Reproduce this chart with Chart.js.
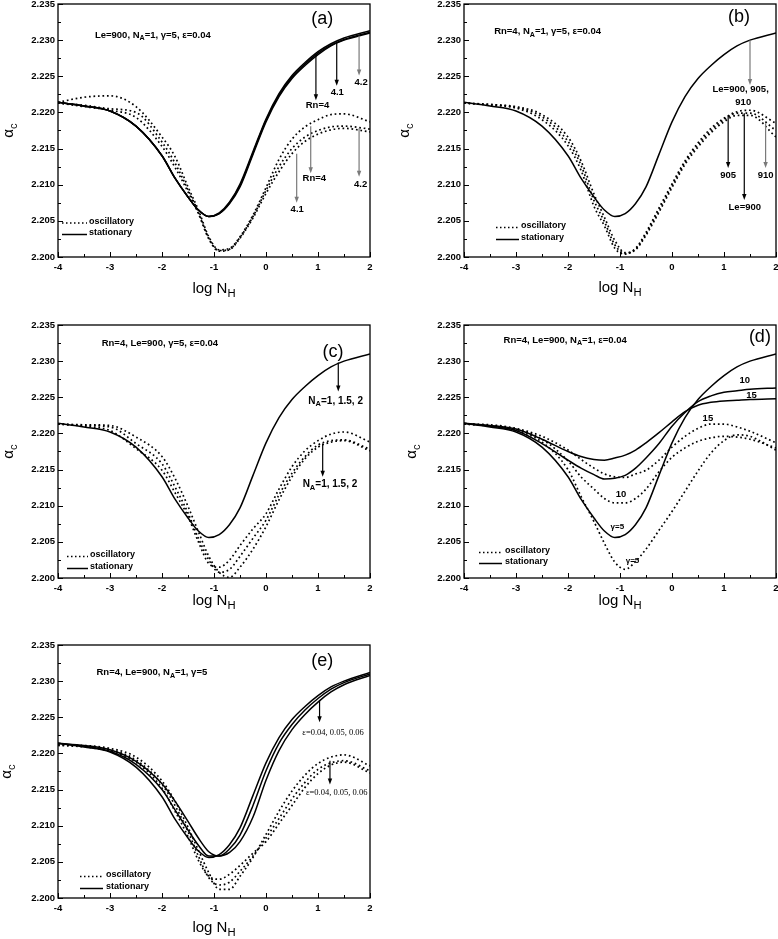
<!DOCTYPE html>
<html>
<head>
<meta charset="utf-8">
<script src="https://cdn.jsdelivr.net/npm/chart.js@4.4.1/dist/chart.umd.min.js"></script>
<style>
  html, body { margin: 0; padding: 0; background: #fff; }
  #page { position: relative; width: 778px; height: 939px; overflow: hidden; }
  canvas { position: absolute; }
</style>
</head>
<body>
<div id="page"></div>
<script>
// log N_H positions shared by every curve
const logNH = [-4, -3.5, -3, -2.5, -2, -1.75, -1.5, -1.3, -1.1, -0.9, -0.7, -0.5, -0.25, 0, 0.25, 0.5, 0.75, 1, 1.25, 1.5, 2];
const xTickValues = [-4, -3, -2, -1, 0, 1, 2];
const yTickValues = [2.200, 2.205, 2.210, 2.215, 2.220, 2.225, 2.230, 2.235];

// (a) Rn = 4, 4.1, 4.2
const aStat1 = [2.2214, 2.2209, 2.2202, 2.2181, 2.2140, 2.2109, 2.2083, 2.2065, 2.2056, 2.2060, 2.2074, 2.2097, 2.2142, 2.2187, 2.2222, 2.2247, 2.2265, 2.2280, 2.2292, 2.2300, 2.2310];
const aStat2 = [2.2214, 2.2209, 2.2202, 2.2181, 2.2140, 2.2109, 2.2083, 2.2065, 2.2056, 2.2060, 2.2075, 2.2099, 2.2144, 2.2189, 2.2224, 2.2249, 2.2267, 2.2282, 2.2293, 2.2301, 2.2311];
const aStat3 = [2.2214, 2.2209, 2.2202, 2.2181, 2.2140, 2.2109, 2.2083, 2.2065, 2.2056, 2.2061, 2.2076, 2.2101, 2.2146, 2.2191, 2.2226, 2.2251, 2.2269, 2.2284, 2.2295, 2.2303, 2.2313];
const aOsc1 = [2.2214, 2.2221, 2.2223, 2.2208, 2.2166, 2.2139, 2.2097, 2.2065, 2.2028, 2.2010, 2.2012, 2.2028, 2.2058, 2.2096, 2.2135, 2.2163, 2.2180, 2.2190, 2.2197, 2.2198, 2.2187];
const aOsc2 = [2.2213, 2.2210, 2.2205, 2.2200, 2.2159, 2.2130, 2.2093, 2.2062, 2.2026, 2.2009, 2.2011, 2.2027, 2.2056, 2.2092, 2.2125, 2.2150, 2.2166, 2.2175, 2.2180, 2.2181, 2.2177];
const aOsc3 = [2.2213, 2.2208, 2.2203, 2.2193, 2.2153, 2.2124, 2.2090, 2.2060, 2.2025, 2.2008, 2.2010, 2.2026, 2.2054, 2.2088, 2.2118, 2.2143, 2.2160, 2.2170, 2.2176, 2.2178, 2.2173];

// (b) Le = 900, 905, 910
const bStat = [2.2214, 2.2209, 2.2202, 2.2181, 2.2140, 2.2109, 2.2083, 2.2065, 2.2056, 2.2060, 2.2074, 2.2097, 2.2142, 2.2187, 2.2222, 2.2247, 2.2265, 2.2280, 2.2292, 2.2300, 2.2310];
const bOsc1 = [2.2213, 2.2211, 2.2208, 2.2197, 2.2166, 2.2133, 2.2087, 2.2055, 2.2023, 2.2006, 2.2010, 2.2030, 2.2062, 2.2096, 2.2128, 2.2152, 2.2172, 2.2187, 2.2196, 2.2196, 2.2166];
const bOsc2 = [2.2213, 2.2211, 2.2207, 2.2194, 2.2160, 2.2127, 2.2078, 2.2049, 2.2017, 2.2005, 2.2011, 2.2032, 2.2065, 2.2099, 2.2131, 2.2155, 2.2175, 2.2190, 2.2199, 2.2199, 2.2175];
const bOsc3 = [2.2213, 2.2210, 2.2206, 2.2190, 2.2154, 2.2120, 2.2070, 2.2043, 2.2012, 2.2004, 2.2012, 2.2034, 2.2068, 2.2101, 2.2133, 2.2158, 2.2178, 2.2192, 2.2201, 2.2203, 2.2185];

// (c) N_A = 1, 1.5, 2
const cStat = [2.2214, 2.2209, 2.2202, 2.2181, 2.2140, 2.2109, 2.2083, 2.2065, 2.2056, 2.2060, 2.2074, 2.2097, 2.2142, 2.2187, 2.2222, 2.2247, 2.2265, 2.2280, 2.2292, 2.2300, 2.2310];
const cOsc1 = [2.2213, 2.2212, 2.2211, 2.2195, 2.2168, 2.2138, 2.2099, 2.2064, 2.2030, 2.2008, 2.2001, 2.2015, 2.2040, 2.2071, 2.2108, 2.2140, 2.2165, 2.2181, 2.2188, 2.2190, 2.2176];
const cOsc2 = [2.2213, 2.2211, 2.2209, 2.2186, 2.2158, 2.2126, 2.2090, 2.2055, 2.2025, 2.2008, 2.2012, 2.2030, 2.2055, 2.2080, 2.2115, 2.2145, 2.2168, 2.2184, 2.2190, 2.2191, 2.2178];
const cOsc3 = [2.2213, 2.2210, 2.2204, 2.2179, 2.2149, 2.2118, 2.2085, 2.2050, 2.2020, 2.2015, 2.2025, 2.2045, 2.2068, 2.2089, 2.2123, 2.2154, 2.2176, 2.2190, 2.2199, 2.2202, 2.2188];

// (d) gamma = 5, 10, 15
const dStat5 = [2.2214, 2.2209, 2.2202, 2.2181, 2.2140, 2.2109, 2.2083, 2.2065, 2.2056, 2.2060, 2.2074, 2.2097, 2.2142, 2.2187, 2.2222, 2.2247, 2.2265, 2.2280, 2.2292, 2.2300, 2.2310];
const dStat10 = [2.2214, 2.2210, 2.2204, 2.2186, 2.2163, 2.2152, 2.2143, 2.2137, 2.2138, 2.2142, 2.2152, 2.2166, 2.2186, 2.2210, 2.2229, 2.2244, 2.2252, 2.2257, 2.2259, 2.2261, 2.2263];
const dStat15 = [2.2214, 2.2211, 2.2206, 2.2192, 2.2175, 2.2168, 2.2164, 2.2163, 2.2166, 2.2170, 2.2177, 2.2187, 2.2201, 2.2216, 2.2230, 2.2239, 2.2243, 2.2245, 2.2246, 2.2247, 2.2248];
const dOsc5 = [2.2213, 2.2210, 2.2204, 2.2188, 2.2150, 2.2113, 2.2078, 2.2048, 2.2022, 2.2012, 2.2023, 2.2040, 2.2066, 2.2092, 2.2120, 2.2148, 2.2173, 2.2190, 2.2198, 2.2196, 2.2177];
const dOsc10 = [2.2213, 2.2211, 2.2206, 2.2192, 2.2162, 2.2140, 2.2123, 2.2110, 2.2104, 2.2104, 2.2110, 2.2123, 2.2147, 2.2167, 2.2180, 2.2189, 2.2194, 2.2196, 2.2195, 2.2192, 2.2180];
const dOsc15 = [2.2213, 2.2212, 2.2207, 2.2196, 2.2177, 2.2164, 2.2152, 2.2144, 2.2140, 2.2139, 2.2144, 2.2149, 2.2163, 2.2181, 2.2196, 2.2207, 2.2213, 2.2213, 2.2209, 2.2203, 2.2187];

// (e) epsilon = 0.04, 0.05, 0.06
const eStat1 = [2.2214, 2.2209, 2.2202, 2.2181, 2.2140, 2.2109, 2.2083, 2.2065, 2.2056, 2.2060, 2.2074, 2.2097, 2.2142, 2.2187, 2.2222, 2.2247, 2.2265, 2.2280, 2.2292, 2.2300, 2.2312];
const eStat2 = [2.2214, 2.2210, 2.2203, 2.2185, 2.2150, 2.2122, 2.2094, 2.2073, 2.2058, 2.2058, 2.2068, 2.2087, 2.2128, 2.2176, 2.2214, 2.2240, 2.2260, 2.2276, 2.2289, 2.2298, 2.2310];
const eStat3 = [2.2214, 2.2211, 2.2205, 2.2189, 2.2158, 2.2134, 2.2106, 2.2083, 2.2064, 2.2058, 2.2063, 2.2078, 2.2112, 2.2163, 2.2204, 2.2233, 2.2254, 2.2271, 2.2285, 2.2295, 2.2308];
const eOsc1 = [2.2212, 2.2211, 2.2207, 2.2195, 2.2162, 2.2134, 2.2098, 2.2066, 2.2035, 2.2012, 2.2012, 2.2030, 2.2056, 2.2088, 2.2120, 2.2148, 2.2170, 2.2186, 2.2195, 2.2198, 2.2183];
const eOsc2 = [2.2212, 2.2210, 2.2205, 2.2191, 2.2157, 2.2128, 2.2092, 2.2058, 2.2028, 2.2018, 2.2022, 2.2037, 2.2058, 2.2083, 2.2110, 2.2137, 2.2160, 2.2178, 2.2187, 2.2190, 2.2176];
const eOsc3 = [2.2211, 2.2209, 2.2203, 2.2188, 2.2152, 2.2120, 2.2085, 2.2052, 2.2030, 2.2026, 2.2033, 2.2045, 2.2062, 2.2078, 2.2103, 2.2128, 2.2153, 2.2172, 2.2184, 2.2188, 2.2173];

const SANS = '"Liberation Sans", Arial, Helvetica, sans-serif';
const SERIF = '"Liberation Serif", "Times New Roman", serif';
const GREY = '#7a7a7a';

const panels = [
  {
    left: 0, top: 0, w: 390, h: 310, area: [58, 4, 370, 257], yTitleX: 9, xTitleDy: 32,
    tag: '(a)', tagAt: [1.08, 2.2329],
    params: 'Le=900, N_A=1, γ=5, ε=0.04', paramsAt: [-3.29, 2.2307],
    legend: { x0: 62, x1: 87, tx: 89, y1: 221.5, y2: 233 },
    stat: [aStat1, aStat2, aStat3], osc: [aOsc1, aOsc2, aOsc3],
    arrows: [
      { x: 0.96, from: 2.2280, to: 2.2217, c: '#000' },
      { x: 1.36, from: 2.2297, to: 2.2237, c: '#000' },
      { x: 1.79, from: 2.2306, to: 2.2251, c: GREY },
      { x: 0.86, from: 2.2181, to: 2.2116, c: GREY },
      { x: 0.59, from: 2.2143, to: 2.2075, c: GREY },
      { x: 1.79, from: 2.2178, to: 2.2111, c: GREY }
    ],
    notes: [
      { x: 0.99, y: 2.2210, t: 'Rn=4' }, { x: 1.37, y: 2.2228, t: '4.1' }, { x: 1.83, y: 2.2241, t: '4.2' },
      { x: 0.93, y: 2.2109, t: 'Rn=4' }, { x: 0.60, y: 2.2066, t: '4.1' }, { x: 1.82, y: 2.2100, t: '4.2' }
    ]
  },
  {
    left: 390, top: 0, w: 388, h: 310, area: [74, 4, 386, 257], yTitleX: 15, xTitleDy: 31,
    tag: '(b)', tagAt: [1.29, 2.2332],
    params: 'Rn=4, N_A=1, γ=5, ε=0.04', paramsAt: [-3.42, 2.2312],
    legend: { x0: 106, x1: 129, tx: 131, y1: 226, y2: 238 },
    stat: [bStat], osc: [bOsc1, bOsc2, bOsc3],
    arrows: [
      { x: 1.50, from: 2.2300, to: 2.2238, c: GREY },
      { x: 1.08, from: 2.2195, to: 2.2123, c: '#000' },
      { x: 1.39, from: 2.2199, to: 2.2079, c: '#000' },
      { x: 1.80, from: 2.2185, to: 2.2123, c: GREY }
    ],
    notes: [
      { x: 1.32, y: 2.2232, t: 'Le=900, 905,' }, { x: 1.37, y: 2.2214, t: '910' },
      { x: 1.08, y: 2.2113, t: '905' }, { x: 1.40, y: 2.2068, t: 'Le=900' }, { x: 1.80, y: 2.2113, t: '910' }
    ]
  },
  {
    left: 0, top: 310, w: 390, h: 310, area: [58, 15, 370, 268], yTitleX: 9, xTitleDy: 23,
    tag: '(c)', tagAt: [1.29, 2.2313],
    params: 'Rn=4, Le=900, γ=5, ε=0.04', paramsAt: [-3.16, 2.2325],
    legend: { x0: 67, x1: 88, tx: 90, y1: 245, y2: 257 },
    stat: [cStat], osc: [cOsc1, cOsc2, cOsc3],
    arrows: [
      { x: 1.39, from: 2.2298, to: 2.2258, c: '#000' },
      { x: 1.09, from: 2.2186, to: 2.2140, c: '#000' }
    ],
    notes: [
      { x: 1.34, y: 2.2245, t: 'N_A=1, 1.5, 2', size: 10 },
      { x: 1.23, y: 2.2130, t: 'N_A=1, 1.5, 2', size: 10 }
    ]
  },
  {
    left: 390, top: 310, w: 388, h: 310, area: [74, 15, 386, 268], yTitleX: 22, xTitleDy: 23,
    tag: '(d)', tagAt: [1.69, 2.2333],
    params: 'Rn=4, Le=900, N_A=1, ε=0.04', paramsAt: [-3.24, 2.2329],
    legend: { x0: 89, x1: 112, tx: 115, y1: 241, y2: 252 },
    stat: [dStat5, dStat10, dStat15], osc: [dOsc5, dOsc10, dOsc15],
    arrows: [],
    notes: [
      { x: 1.40, y: 2.2274, t: '10' }, { x: 1.53, y: 2.2253, t: '15' }, { x: 0.69, y: 2.2221, t: '15' },
      { x: -0.98, y: 2.2115, t: '10' }, { x: -1.05, y: 2.2071, t: 'γ=5', size: 8 }, { x: -0.76, y: 2.2024, t: 'γ=5', size: 8 }
    ]
  },
  {
    left: 0, top: 620, w: 390, h: 319, area: [58, 25, 370, 278], yTitleX: 7, xTitleDy: 30,
    tag: '(e)', tagAt: [1.08, 2.2328],
    params: 'Rn=4, Le=900, N_A=1, γ=5', paramsAt: [-3.26, 2.2312],
    legend: { x0: 80, x1: 103, tx: 106, y1: 255, y2: 267 },
    stat: [eStat1, eStat2, eStat3], osc: [eOsc1, eOsc2, eOsc3],
    arrows: [
      { x: 1.03, from: 2.2274, to: 2.2243, c: '#000' },
      { x: 1.23, from: 2.2190, to: 2.2157, c: '#000' }
    ],
    notes: [
      { x: 1.29, y: 2.2228, t: 'ε=0.04, 0.05, 0.06', family: SERIF, size: 8.5, weight: 'normal' },
      { x: 1.36, y: 2.2146, t: 'ε=0.04, 0.05, 0.06', family: SERIF, size: 8.5, weight: 'normal' }
    ]
  }
];

// draw text where "_X" puts X as subscript
function richText(ctx, text, x, y, size, opt) {
  opt = opt || {};
  const family = opt.family || SANS;
  const weight = opt.weight || 'normal';
  const parts = [];
  for (let i = 0; i < text.length; i++) {
    if (text[i] === '_' && i + 1 < text.length) {
      parts.push({ t: text[i + 1], sub: true });
      i++;
    } else if (parts.length && !parts[parts.length - 1].sub) {
      parts[parts.length - 1].t += text[i];
    } else {
      parts.push({ t: text[i], sub: false });
    }
  }
  const fontOf = p => weight + ' ' + (p.sub ? size * 0.75 : size) + 'px ' + family;
  let total = 0;
  parts.forEach(p => { ctx.font = fontOf(p); p.w = ctx.measureText(p.t).width; total += p.w; });
  let cx = x;
  if (opt.align === 'center') cx = x - total / 2;
  else if (opt.align === 'right') cx = x - total;
  ctx.textAlign = 'left';
  ctx.textBaseline = 'middle';
  parts.forEach(p => {
    ctx.font = fontOf(p);
    ctx.fillText(p.t, cx, p.sub ? y + size * 0.35 : y);
    cx += p.w;
  });
}

const decorPlugin = {
  id: 'decor',
  afterDatasetsDraw(chart) {
    const p = chart.config.options.plugins.decor.panel;
    const { ctx, chartArea: a } = chart;
    const xs = chart.scales.x, ys = chart.scales.y;
    ctx.save();
    ctx.fillStyle = '#000';
    ctx.strokeStyle = '#000';

    // frame + inward ticks
    ctx.lineWidth = 1.3;
    ctx.strokeRect(a.left, a.top, a.right - a.left, a.bottom - a.top);
    ctx.lineWidth = 1;
    ctx.beginPath();
    for (let i = 0; i <= 12; i++) {
      const v = -4 + i * 0.5;
      const px = Math.round(xs.getPixelForValue(v)) + 0.5;
      const len = i % 2 === 0 ? 5 : 3;
      ctx.moveTo(px, a.bottom);
      ctx.lineTo(px, a.bottom - len);
    }
    for (let i = 0; i <= 14; i++) {
      const v = 2.2 + i * 0.0025;
      const py = Math.round(ys.getPixelForValue(v)) + 0.5;
      const len = i % 2 === 0 ? 5 : 3;
      ctx.moveTo(a.left, py);
      ctx.lineTo(a.left + len, py);
    }
    ctx.stroke();

    // arrows
    p.arrows.forEach(ar => {
      const px = xs.getPixelForValue(ar.x);
      const y1 = ys.getPixelForValue(ar.from);
      const y2 = ys.getPixelForValue(ar.to);
      ctx.strokeStyle = ar.c;
      ctx.fillStyle = ar.c;
      ctx.lineWidth = 1.2;
      ctx.beginPath();
      ctx.moveTo(px, y1);
      ctx.lineTo(px, y2 - 5);
      ctx.stroke();
      ctx.beginPath();
      ctx.moveTo(px - 2.2, y2 - 6);
      ctx.lineTo(px + 2.2, y2 - 6);
      ctx.lineTo(px, y2);
      ctx.closePath();
      ctx.fill();
    });

    ctx.fillStyle = '#000';
    ctx.strokeStyle = '#000';
    // notes
    p.notes.forEach(n => {
      richText(ctx, n.t, xs.getPixelForValue(n.x), ys.getPixelForValue(n.y), n.size || 9.5,
        { align: 'center', family: n.family, weight: n.weight || 'bold' });
    });

    // panel tag and parameter line
    richText(ctx, p.tag, xs.getPixelForValue(p.tagAt[0]), ys.getPixelForValue(p.tagAt[1]), 18, { align: 'center' });
    richText(ctx, p.params, xs.getPixelForValue(p.paramsAt[0]), ys.getPixelForValue(p.paramsAt[1]), 9.5, { weight: 'bold' });

    // legend
    const L = p.legend;
    ctx.lineWidth = 1.5;
    ctx.setLineDash([1.5, 2.5]);
    ctx.beginPath(); ctx.moveTo(L.x0, L.y1 + 1.5); ctx.lineTo(L.x1, L.y1 + 1.5); ctx.stroke();
    ctx.setLineDash([]);
    ctx.beginPath(); ctx.moveTo(L.x0, L.y2 + 1.5); ctx.lineTo(L.x1, L.y2 + 1.5); ctx.stroke();
    richText(ctx, 'oscillatory', L.tx, L.y1, 9, { weight: 'bold' });
    richText(ctx, 'stationary', L.tx, L.y2, 9, { weight: 'bold' });

    // axis titles
    richText(ctx, 'log N_H', (a.left + a.right) / 2, a.bottom + p.xTitleDy, 15, { align: 'center' });
    ctx.translate(p.yTitleX, (a.top + a.bottom) / 2);
    ctx.rotate(-Math.PI / 2);
    richText(ctx, 'α_c', 0, 0, 15, { align: 'center' });
    ctx.restore();
  }
};

function makeSet(values, dotted) {
  return {
    data: logNH.map((x, i) => ({ x: x, y: values[i] })),
    borderColor: '#000',
    borderWidth: dotted ? 1.7 : 1.5,
    borderDash: dotted ? [1.7, 2.8] : [],
    pointRadius: 0,
    fill: false,
    cubicInterpolationMode: 'monotone'
  };
}

const page = document.getElementById('page');
panels.forEach(p => {
  const cv = document.createElement('canvas');
  cv.width = p.w;
  cv.height = p.h;
  cv.style.left = p.left + 'px';
  cv.style.top = p.top + 'px';
  cv.style.width = p.w + 'px';
  cv.style.height = p.h + 'px';
  page.appendChild(cv);
  const [aL, aT, aR, aB] = p.area;
  const datasets = p.osc.map(v => makeSet(v, true)).concat(p.stat.map(v => makeSet(v, false)));
  new Chart(cv, {
    type: 'line',
    data: { datasets: datasets },
    options: {
      responsive: false,
      animation: false,
      devicePixelRatio: 1,
      layout: { padding: { left: 0, top: aT, right: p.w - aR, bottom: 0 } },
      plugins: { legend: { display: false }, tooltip: { enabled: false }, decor: { panel: p } },
      scales: {
        x: {
          type: 'linear', min: -4, max: 2,
          grid: { display: false, drawTicks: false },
          border: { display: false },
          afterBuildTicks: s => { s.ticks = xTickValues.map(v => ({ value: v })); },
          ticks: { color: '#000', padding: 5, maxRotation: 0, font: { family: SANS, size: 9.5, weight: 'bold' } },
          afterFit: s => { s.height = p.h - aB; s.paddingLeft = 0; s.paddingRight = 0; }
        },
        y: {
          type: 'linear', min: 2.2, max: 2.235,
          grid: { display: false, drawTicks: false },
          border: { display: false },
          afterBuildTicks: s => { s.ticks = yTickValues.map(v => ({ value: v })); },
          ticks: { color: '#000', padding: 3, font: { family: SANS, size: 9.5, weight: 'bold' },
                   callback: v => v.toFixed(3) },
          afterFit: s => { s.width = aL; s.paddingTop = 0; s.paddingBottom = 0; }
        }
      }
    },
    plugins: [decorPlugin]
  });
});
</script>
</body>
</html>
